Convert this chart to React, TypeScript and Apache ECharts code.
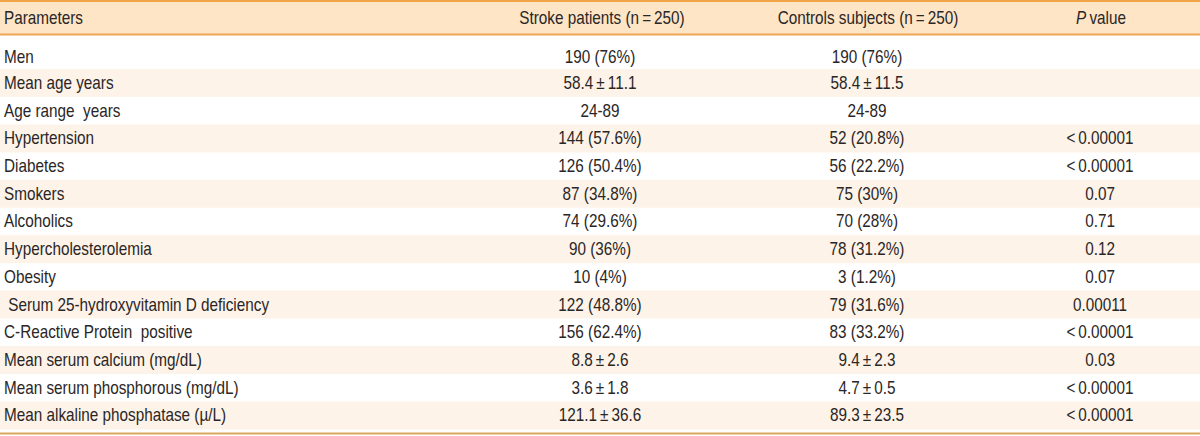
import React, { useEffect, useRef } from "react";
import * as echarts from "echarts";

const headers = ["Parameters", "Stroke patients (n\u2009=\u2009250)", "Controls subjects (n\u2009=\u2009250)", "value"];
const parameters = [
  "Men",
  "Mean age years",
  "Age range  years",
  "Hypertension",
  "Diabetes",
  "Smokers",
  "Alcoholics",
  "Hypercholesterolemia",
  "Obesity",
  " Serum 25-hydroxyvitamin D deficiency",
  "C-Reactive Protein  positive",
  "Mean serum calcium (mg/dL)",
  "Mean serum phosphorous (mg/dL)",
  "Mean alkaline phosphatase (\u00b5/L)",
];
const strokePatients = [
  "190 (76%)",
  "58.4\u2009\u00b1\u200911.1",
  "24-89",
  "144 (57.6%)",
  "126 (50.4%)",
  "87 (34.8%)",
  "74 (29.6%)",
  "90 (36%)",
  "10 (4%)",
  "122 (48.8%)",
  "156 (62.4%)",
  "8.8\u2009\u00b1\u20092.6",
  "3.6\u2009\u00b1\u20091.8",
  "121.1\u2009\u00b1\u200936.6",
];
const controlSubjects = [
  "190 (76%)",
  "58.4\u2009\u00b1\u200911.5",
  "24-89",
  "52 (20.8%)",
  "56 (22.2%)",
  "75 (30%)",
  "70 (28%)",
  "78 (31.2%)",
  "3 (1.2%)",
  "79 (31.6%)",
  "83 (33.2%)",
  "9.4\u2009\u00b1\u20092.3",
  "4.7\u2009\u00b1\u20090.5",
  "89.3\u2009\u00b1\u200923.5",
];
const pValues = [
  "",
  "",
  "",
  "<\u20090.00001",
  "<\u20090.00001",
  "0.07",
  "0.71",
  "0.12",
  "0.07",
  "0.00011",
  "<\u20090.00001",
  "0.03",
  "<\u20090.00001",
  "<\u20090.00001",
];

const FONT = "'Liberation Sans', Arial, sans-serif";
const FS = 18;
const SX = 0.85;
const TEXT_COLOR = "#2b2626";

export default function App() {
  const ref = useRef<HTMLDivElement>(null);
  useEffect(() => {
    if (!ref.current) return;
    const chart = echarts.init(ref.current, null, { renderer: "svg" });
    const W = 1200;
    const colX = [4, 600, 867, 1100];
    const headerY = 18;
    const rowY = (i: number) => (i === 0 ? 57 : 83 + 27.7 * (i - 1));
    const elements: any[] = [];

    // header background
    elements.push({ type: "rect", shape: { x: 0, y: 0, width: W, height: 35 }, style: { fill: "#fde5c6" }, silent: true });
    // zebra bands
    for (let i = 1; i < parameters.length; i += 2) {
      const y = rowY(i);
      elements.push({ type: "rect", shape: { x: 0, y: y - 14, width: W, height: 28 }, style: { fill: "#fdf3e8" }, silent: true });
    }
    // lines
    elements.push({ type: "line", shape: { x1: 0, y1: 1, x2: W, y2: 1 }, style: { stroke: "#f2a448", lineWidth: 2 }, silent: true });
    elements.push({ type: "line", shape: { x1: 0, y1: 34.5, x2: W, y2: 34.5 }, style: { stroke: "#efa650", lineWidth: 2 }, silent: true });
    elements.push({ type: "line", shape: { x1: 0, y1: 433.5, x2: W, y2: 433.5 }, style: { stroke: "#d9a85e", lineWidth: 2 }, silent: true });

    const txt = (x: number, y: number, text: string, align: string) => ({
      type: "text",
      x,
      y,
      scaleX: SX,
      silent: true,
      style: { text, x: 0, y: 0, align, verticalAlign: "middle", fill: TEXT_COLOR, font: `${FS}px ${FONT}` },
    });

    // headers
    elements.push(txt(colX[0], headerY, headers[0], "left"));
    elements.push(txt(colX[1] + 2, headerY, headers[1], "center"));
    elements.push(txt(colX[2] + 1, headerY, headers[2], "center"));
    elements.push({
      type: "text",
      x: colX[3] + 1,
      y: headerY,
      scaleX: SX,
      silent: true,
      style: {
        text: "{i|P}{n|\u2009" + headers[3] + "}",
        align: "center",
        verticalAlign: "middle",
        rich: {
          i: { fontStyle: "italic", fontFamily: FONT, fontSize: FS, fill: TEXT_COLOR },
          n: { fontFamily: FONT, fontSize: FS, fill: TEXT_COLOR },
        },
      },
    });

    parameters.forEach((p, i) => {
      const y = rowY(i);
      elements.push(txt(colX[0], y, p, "left"));
      elements.push(txt(colX[1], y, strokePatients[i], "center"));
      elements.push(txt(colX[2], y, controlSubjects[i], "center"));
      if (pValues[i]) elements.push(txt(colX[3], y, pValues[i], "center"));
    });

    chart.setOption({
      animation: false,
      backgroundColor: "#ffffff",
      graphic: { elements },
    });
    return () => chart.dispose();
  }, []);
  return <div ref={ref} style={{ position: "fixed", left: 0, top: 0, width: 1200, height: 436 }} />;
}
